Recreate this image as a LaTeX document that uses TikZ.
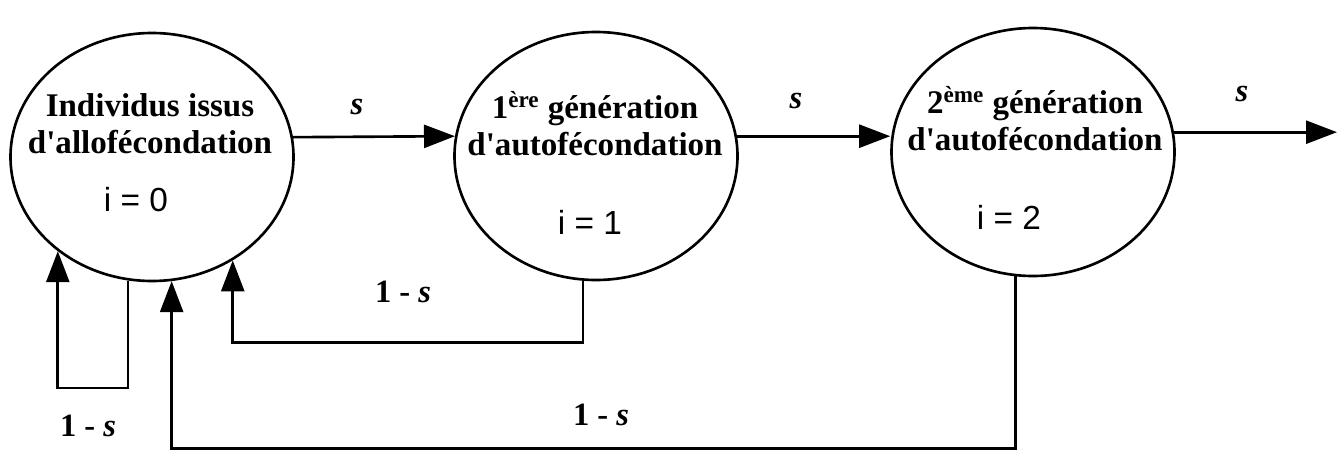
\documentclass[tikz,border=0pt]{standalone}
\usepackage{fontspec}
\setmainfont{Liberation Serif}
\newfontfamily\helv{Liberation Sans}
\usetikzlibrary{shapes.geometric, arrows.meta, positioning}
\newcommand{\apos}{\textquotesingle}
\tikzset{
  generation/.style={
    ellipse, draw=black, line width=1.5pt, minimum width=5.66cm,
    minimum height=4.96cm, inner sep=0pt
  },
  flow/.style={
    -{Triangle[length=0.62cm, width=0.46cm]}, line width=1.5pt
  }
}

\begin{document}
\begin{tikzpicture}[
  title/.style={font=\fontsize{18.8}{21}\selectfont\bfseries, align=center},
  index/.style={font=\helv\fontsize{19}{22}\selectfont},
  rate/.style={font=\fontsize{18.5}{21}\selectfont\bfseries},
]
  \useasboundingbox (0,0) rectangle (26.88,-9.06);

  % Generations
  \node[generation] (G0) at (3.04,-3.14) {};
  \node[generation] (G1) at (11.92,-3.12) {};
  \node[generation] (G2) at (20.66,-3.04) {};

  \node[title] (T0) at (3.00,-2.47) {Individus issus\\d\apos allofécondation};
  \node[title] (T1) at (11.90,-2.48) {1\textsuperscript{ère} génération\\d\apos autofécondation};
  \node[title] (T2) at (20.70,-2.38) {2\textsuperscript{ème} génération\\d\apos autofécondation};

  \node[index] (I0) at (2.72,-4.00) {i = 0};
  \node[index] (I1) at (11.80,-4.45) {i = 1};
  \node[index] (I2) at (20.18,-4.35) {i = 2};

  % Selection s
  \coordinate (exit) at (26.74,-2.66);
  \draw[flow] (G0.8) -- (G1.172);
  \draw[flow] (G1.8) -- (G1.8 -| G2.west);
  \draw[flow] (G2.8) -- (G2.8 -| exit);

  \node[rate] (s1) at (7.14,-2.14) {\textit{s}};
  \node[rate] (s2) at (15.92,-2.02) {\textit{s}};
  \node[rate] (s3) at (24.84,-1.88) {\textit{s}};

  % Return 1 - s
  \draw[flow] (G0.259) -- ++(0,-2.15) -| (G0.225);
  \draw[flow] (G1.264) -- ++(0,-1.23) -| (G0.308);
  \draw[flow] (G2.262) -- ++(0,-3.44) -| (G0.279);

  \node[rate] (r0) at (1.76,-8.52) {1 - \textit{s}};
  \node[rate] (r1) at (8.06,-5.84) {1 - \textit{s}};
  \node[rate] (r2) at (12.02,-8.30) {1 - \textit{s}};

\end{tikzpicture}
\end{document}
